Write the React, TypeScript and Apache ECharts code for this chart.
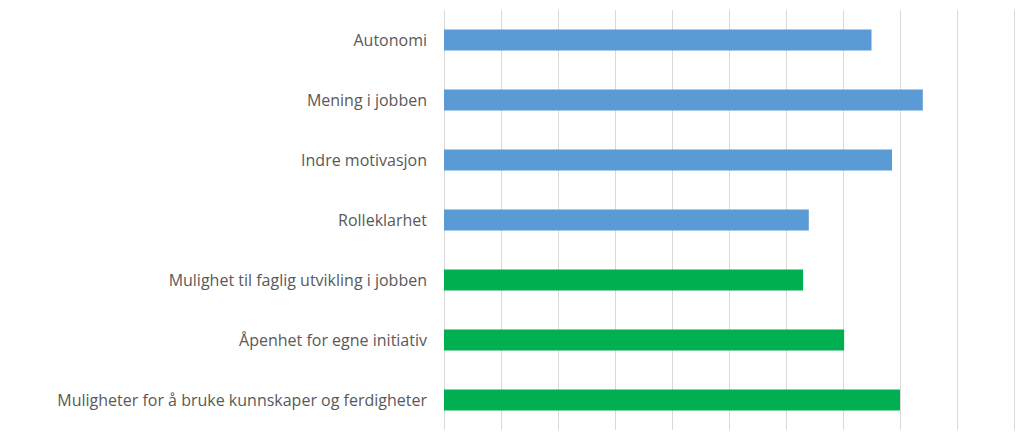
import React, { useEffect, useRef } from "react";
import * as echarts from "echarts";

const categories = [
  "Autonomi",
  "Mening i jobben",
  "Indre motivasjon",
  "Rolleklarhet",
  "Mulighet til faglig utvikling i jobben",
  "Åpenhet for egne initiativ",
  "Muligheter for å bruke kunnskaper og ferdigheter",
];
const values = [3.75, 4.2, 3.93, 3.2, 3.15, 3.51, 4.0];
const groups = ["blue", "blue", "blue", "blue", "green", "green", "green"];
const groupColors: Record<string, string> = { blue: "#5B9BD5", green: "#00B050" };

export default function App() {
  const ref = useRef<HTMLDivElement>(null);
  useEffect(() => {
    if (!ref.current) return;
    const chart = echarts.init(ref.current, null, { renderer: "svg" });
    chart.setOption({
      animation: false,
      grid: { left: 444, right: 10, top: 10, bottom: 11, containLabel: false },
      xAxis: {
        type: "value",
        min: 0,
        max: 5,
        interval: 0.5,
        axisLabel: { show: false },
        axisLine: { show: false },
        axisTick: { show: false },
        splitLine: { show: true, lineStyle: { color: "#D9D9D9", width: 1 } },
      },
      yAxis: {
        type: "category",
        data: categories,
        inverse: true,
        axisLine: { show: false },
        axisTick: { show: false },
        axisLabel: {
          color: "#595959",
          fontSize: 16,
          fontFamily: "Open Sans",
          margin: 17,
        },
      },
      series: [
        {
          type: "bar",
          barWidth: 21,
          data: values.map((v, i) => ({
            value: v,
            itemStyle: { color: groupColors[groups[i]] },
          })),
        },
      ],
    });
    return () => chart.dispose();
  }, []);
  return <div ref={ref} style={{ width: 1024, height: 441, position: "absolute", left: 0, top: 0 }} />;
}
